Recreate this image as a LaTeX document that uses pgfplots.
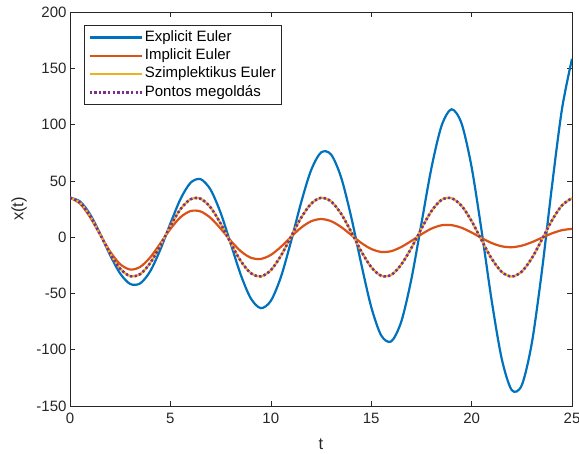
\documentclass[border=0pt]{standalone}
\usepackage{fontspec}
\setmainfont{Liberation Sans}
\usepackage{pgfplots}
\pgfplotsset{compat=1.18}
\usepackage{pgfplotstable}
\usetikzlibrary{calc}
\definecolor{mblue}{rgb}{0,0.447,0.741}
\definecolor{morange}{rgb}{0.85,0.325,0.098}
\definecolor{myellow}{rgb}{0.929,0.694,0.125}
\definecolor{mpurple}{rgb}{0.494,0.184,0.556}
\definecolor{axgray}{rgb}{0.15,0.15,0.15}

\pgfplotstableread{
t expl impl sympl exact
0 35 35 35 35
0.5 31.74 29.78 30.72 30.72
1 20.30 17.77 18.91 18.91
1.5 3.06 2.26 2.48 2.48
2 -16.05 -12.87 -14.57 -14.57
2.5 -32.37 -24.01 -28.04 -28.04
3 -41.63 -28.77 -34.65 -34.65
3.5 -41.04 -26.39 -32.78 -32.78
4 -30.13 -17.85 -22.88 -22.88
4.5 -10.97 -5.58 -7.38 -7.38
5 12.16 7.28 9.93 9.93
5.5 33.74 17.64 24.80 24.80
6 48.24 23.17 33.61 33.61
6.5 51.54 22.84 34.18 34.18
7 42.18 17.10 26.39 26.39
7.5 21.65 7.62 12.13 12.13
8 -5.62 -3.10 -5.09 -5.09
8.5 -33.23 -12.44 -21.07 -21.07
9 -54.28 -18.25 -31.89 -31.89
9.5 -63.07 -19.37 -34.90 -34.90
10 -56.62 -15.80 -29.37 -29.37
10.5 -35.57 -8.68 -16.64 -16.64
11 -4.26 0.08 0.15 0.15
11.5 30.12 8.29 16.92 16.92
12 59.15 14.03 29.54 29.54
12.5 75.21 16.09 34.92 34.92
13 73.46 14.18 31.76 31.76
13.5 53.19 9.02 20.82 20.82
14 18.29 2.01 4.79 4.79
14.5 -23.42 -5.06 -12.42 -12.42
15 -61.93 -10.49 -26.59 -26.59
15.5 -87.38 -13.14 -34.34 -34.34
16 -92.58 -12.43 -33.52 -33.52
16.5 -74.89 -8.72 -24.25 -24.25
17 -37.33 -3.36 -9.63 -9.63
17.5 12.01 2.54 7.53 7.53
18 61.49 7.57 23.11 23.11
18.5 98.72 10.53 33.13 33.13
19 113.60 10.66 34.60 34.60
19.5 100.97 8.32 27.86 27.86
20 62.23 4.13 14.28 14.28
20.5 5.41 -0.78 -2.79 -2.79
21 -56.39 -5.21 -19.17 -19.17
21.5 -108.02 -8.14 -30.86 -30.86
22 -135.87 -8.95 -35.00 -35.00
22.5 -131.48 -7.57 -30.57 -30.57
23 -94.02 -4.48 -18.64 -18.64
23.5 -30.29 -0.51 -2.17 -2.17
24 44.92 3.35 14.85 14.85
24.5 113.67 6.18 28.22 28.22
25 158.36 7.36 34.69 34.69
}\data

\begin{document}
\begin{tikzpicture}
\useasboundingbox (-70bp,-48bp) rectangle (509bp,406bp);
\begin{axis}[
  at={(0,0)}, anchor=south west,
  scale only axis, width=502bp, height=394bp,
  xmin=0, xmax=25, ymin=-150, ymax=200,
  xtick={0,5,...,25}, ytick={-150,-100,...,200},
  tick align=inside, major tick length=5bp,
  axis line style={color=axgray, line width=0.6bp},
  every tick/.style={color=axgray, line width=0.6bp},
  tick label style={font=\fontsize{15bp}{18bp}\selectfont, color=axgray},
  xticklabel style={yshift=-4bp},
  /pgf/number format/assume math mode=true,
  xlabel={t}, ylabel={x(t)},
  label style={font=\fontsize{16.5bp}{19bp}\selectfont, color=axgray},
  xlabel style={at={(axis description cs:0.5,0)}, anchor=center, yshift=-38.5bp},
  ylabel style={at={($(axis description cs:0,0.5)+(-51bp,0)$)}, anchor=center, rotate=0},
  legend cell align=left,
  legend style={at={(0,1)}, anchor=north west, xshift=14bp, yshift=-13bp,
    draw=axgray, line width=0.6bp, font=\fontsize{15bp}{18bp}\selectfont,
    inner xsep=4bp, inner ysep=3bp, row sep=0pt,
    nodes={inner xsep=2bp, inner ysep=1.9bp, text height=11bp, text depth=3.5bp}},
  legend image code/.code={\draw[#1] (0bp,0bp) -- (52bp,0bp);},
]
\addplot[mblue, line width=2.2bp, smooth] table[x=t, y=expl] {\data};
\addlegendentry{Explicit Euler}
\addplot[morange, line width=2.2bp, smooth] table[x=t, y=impl] {\data};
\addlegendentry{Implicit Euler}
\addplot[myellow, line width=2.2bp, smooth] table[x=t, y=sympl] {\data};
\addlegendentry{Szimplektikus Euler}
\addplot[mpurple, line width=2.6bp, dash pattern=on 2.3bp off 2.3bp, smooth] table[x=t, y=exact] {\data};
\addlegendentry{Pontos megoldás}
\end{axis}
\end{tikzpicture}
\end{document}
